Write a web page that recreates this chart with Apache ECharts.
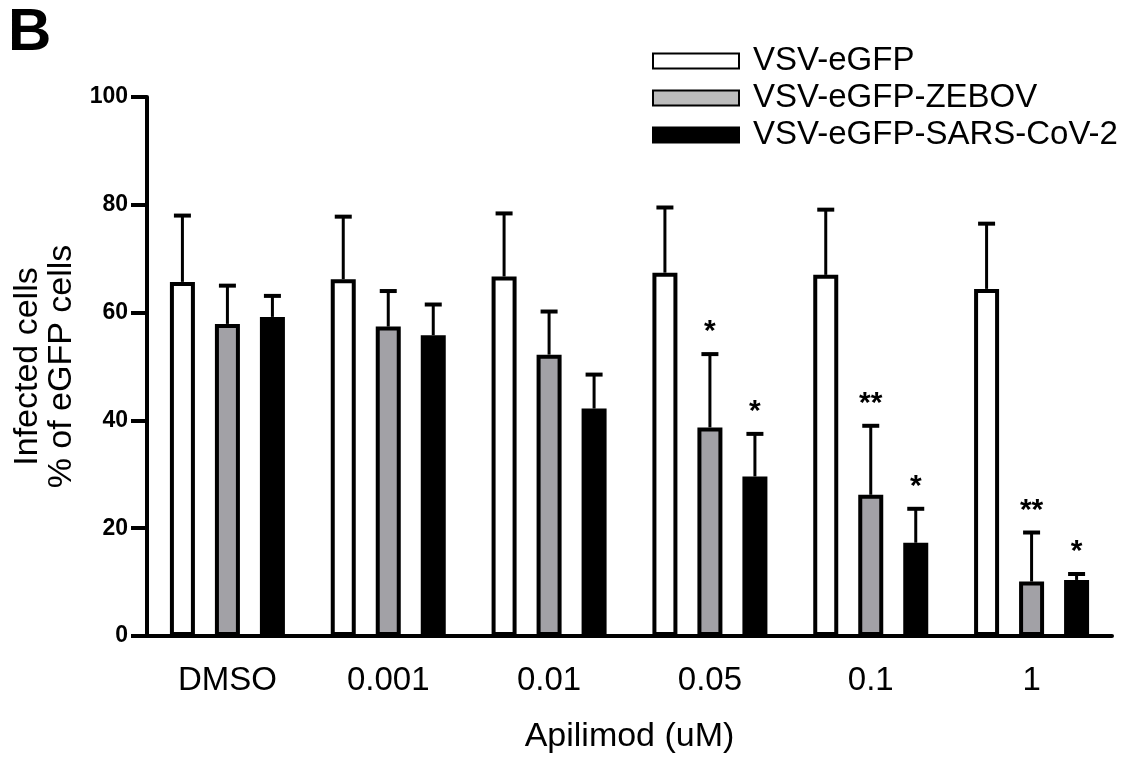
<!DOCTYPE html>
<html>
<head>
<meta charset="utf-8">
<script src="https://cdn.jsdelivr.net/npm/echarts@6/dist/echarts.min.js"></script>
<style>
  html, body { margin: 0; padding: 0; background: #fff; }
  #chart { width: 1143px; height: 763px; }
</style>
</head>
<body>
<div id="chart"></div>
<script>
const categories = ['DMSO', '0.001', '0.01', '0.05', '0.1', '1'];
const seriesNames = ['VSV-eGFP', 'VSV-eGFP-ZEBOV', 'VSV-eGFP-SARS-CoV-2'];

// mean values (% infected cells)
const eGFP = [65.7, 66.2, 66.7, 67.4, 67.0, 64.4];
const zebov = [57.9, 57.4, 52.2, 38.7, 26.2, 10.1];
const sars = [59.2, 55.8, 42.2, 29.6, 17.3, 10.4];

// upper error (SD)
const eGFPErr = [12.3, 11.6, 11.7, 12.1, 12.1, 12.1];
const zebovErr = [7.1, 6.6, 8.0, 13.6, 12.8, 9.1];
const sarsErr = [3.9, 5.7, 6.3, 7.9, 6.3, 1.1];

// significance marks
const eGFPStars = ['', '', '', '', '', ''];
const zebovStars = ['', '', '', '*', '**', '**'];
const sarsStars = ['', '', '', '*', '*', '*'];

const yTicks = [0, 20, 40, 60, 80, 100];

const font = '"Liberation Sans", Arial, Helvetica, sans-serif';
const barW = 25;
const barGap = 0.8;
const step = barW * (1 + barGap);

const fills = ['#ffffff', '#a2a1a6', '#000000'];
const means = [eGFP, zebov, sars];
const errs = [eGFPErr, zebovErr, sarsErr];
const stars = [eGFPStars, zebovStars, sarsStars];

const chart = echarts.init(document.getElementById('chart'));

const barSeries = seriesNames.map(function (name, k) {
  return {
    name: name,
    type: 'bar',
    data: means[k],
    barWidth: barW,
    barGap: (barGap * 100) + '%',
    itemStyle: { color: fills[k], borderColor: '#000', borderWidth: 4 },
    emphasis: { disabled: true },
    z: 2
  };
});

// one-sided error bars + significance stars
const errSeries = seriesNames.map(function (name, k) {
  return {
    type: 'custom',
    coordinateSystem: 'cartesian2d',
    data: means[k].map(function (v, i) { return [i, v, v + errs[k][i]]; }),
    encode: { x: 0, y: 1 },
    z: 3,
    silent: true,
    renderItem: function (params, api) {
      const i = api.value(0);
      const base = api.coord([i, api.value(1)]);
      const top = api.coord([i, api.value(2)]);
      const x = base[0] + (k - 1) * step;
      const mark = stars[k][i];
      const children = [
        { type: 'line', shape: { x1: x, y1: base[1], x2: x, y2: top[1] },
          style: { stroke: '#000', lineWidth: 3 } },
        { type: 'line', shape: { x1: x - 8.5, y1: top[1], x2: x + 8.5, y2: top[1] },
          style: { stroke: '#000', lineWidth: 4 } }
      ];
      if (mark) {
        children.push({
          type: 'text',
          style: {
            text: mark, x: x, y: top[1] - 22,
            align: 'center', verticalAlign: 'middle',
            fontSize: 30, fontWeight: 'bold', fontFamily: font, fill: '#000'
          }
        });
      }
      return { type: 'group', children: children };
    }
  };
});

const option = {
  backgroundColor: '#fff',
  animation: false,
  textStyle: { fontFamily: font, color: '#000' },
  title: {
    text: 'B',
    left: 8,
    top: 3,
    padding: 0,
    textStyle: { fontSize: 60, fontWeight: 'bold', color: '#000', fontFamily: font }
  },
  legend: {
    orient: 'vertical',
    left: 652,
    top: 44,
    padding: 0,
    itemWidth: 86,
    itemHeight: 15,
    itemGap: 3,
    icon: 'rect',
    selectedMode: false,
    data: [
      { name: seriesNames[0] },
      { name: seriesNames[1], itemStyle: { color: '#bcbcbc' } },
      { name: seriesNames[2] }
    ],
    textStyle: { fontSize: 33, color: '#000', fontFamily: font, lineHeight: 34, padding: [0, 0, 0, 9] }
  },
  grid: { left: 147, right: 31, top: 97, bottom: 127 },
  xAxis: {
    type: 'category',
    data: categories,
    name: 'Apilimod (uM)',
    nameLocation: 'middle',
    nameGap: 84,
    nameTextStyle: { fontSize: 34, color: '#000', fontFamily: font },
    axisLine: { lineStyle: { color: '#000', width: 4 } },
    axisTick: { alignWithLabel: true, length: 16, lineStyle: { color: '#000', width: 4 } },
    axisLabel: { fontSize: 33, color: '#000', margin: 28, fontFamily: font }
  },
  yAxis: {
    type: 'value',
    min: yTicks[0],
    max: yTicks[yTicks.length - 1],
    interval: 20,
    name: 'Infected cells\n% of eGFP cells',
    nameLocation: 'middle',
    nameGap: 60,
    nameTextStyle: { fontSize: 34, color: '#000', fontFamily: font, lineHeight: 34 },
    axisLine: { show: true, lineStyle: { color: '#000', width: 4 } },
    axisTick: { show: true, length: 16, lineStyle: { color: '#000', width: 4 } },
    axisLabel: { fontSize: 23, fontWeight: 'bold', color: '#000', margin: 19, fontFamily: font },
    splitLine: { show: false }
  },
  series: barSeries.concat(errSeries)
};

chart.setOption(option);
</script>
</body>
</html>
